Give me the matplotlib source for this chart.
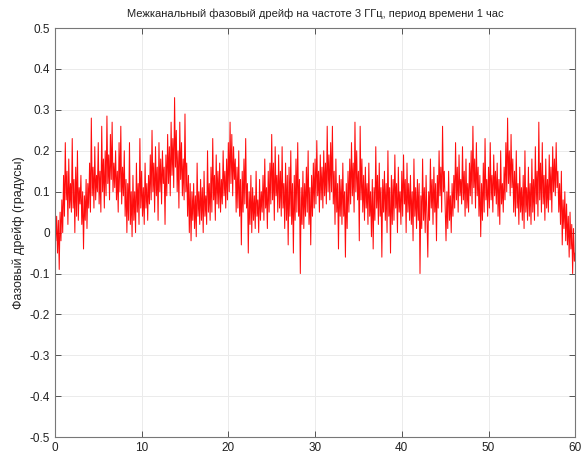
import numpy as np
import matplotlib
matplotlib.use("Agg")
import matplotlib.pyplot as plt
from matplotlib.ticker import FuncFormatter

plt.rcParams.update({
    "font.family": ["Liberation Sans", "DejaVu Sans"],
    "font.size": 8.5,
    "axes.unicode_minus": False,
})

TITLE = "Межканальный фазовый дрейф на частоте 3 ГГц, период времени 1 час"
YLABEL = "Фазовый дрейф (градусы)"

# phase drift, 10 samples per minute (0.1 min step)
drift = [
    0.06, -0.02, 0.04, -0.05, 0.03, -0.09, 0.05, -0.02, 0.08, 0.00,
    0.14, 0.04, 0.22, 0.08, 0.15, 0.02, 0.18, 0.06, 0.12, 0.05,
    0.23, 0.06, 0.13, 0.00, 0.16, 0.04, 0.20, 0.03, 0.11, 0.07,
    0.14, 0.02, 0.10, -0.04, 0.09, 0.03, 0.13, 0.01, 0.12, 0.06,
    0.17, 0.05, 0.28, 0.09, 0.16, 0.06, 0.21, 0.08, 0.14, 0.10,
    0.22, 0.07, 0.15, 0.05, 0.26, 0.10, 0.18, 0.06, 0.20, 0.09,
    0.285, 0.12, 0.19, 0.08, 0.24, 0.13, 0.27, 0.10, 0.17, 0.11,
    0.20, 0.08, 0.15, 0.05, 0.22, 0.10, 0.26, 0.07, 0.16, 0.09,
    0.20, 0.04, 0.13, 0.00, 0.12, 0.03, 0.22, 0.02, 0.10, -0.01,
    0.14, 0.03, 0.10, 0.00, 0.17, 0.05, 0.12, 0.02, 0.23, 0.06,
    0.15, 0.04, 0.11, 0.02, 0.17, 0.06, 0.12, 0.03, 0.14, 0.07,
    0.19, 0.08, 0.25, 0.10, 0.17, 0.05, 0.21, 0.09, 0.16, 0.03,
    0.22, 0.10, 0.18, 0.07, 0.20, 0.12, 0.16, 0.02, 0.19, 0.09,
    0.24, 0.12, 0.21, 0.09, 0.27, 0.14, 0.23, 0.11, 0.33, 0.16,
    0.25, 0.10, 0.20, 0.06, 0.27, 0.13, 0.22, 0.09, 0.18, 0.08,
    0.29, 0.10, 0.17, 0.04, 0.14, 0.00, 0.12, -0.02, 0.10, 0.03,
    0.12, 0.01, 0.09, -0.01, 0.17, 0.04, 0.10, 0.02, 0.13, 0.03,
    0.11, 0.00, 0.15, 0.04, 0.09, 0.02, 0.20, 0.05, 0.12, 0.03,
    0.16, 0.05, 0.23, 0.08, 0.14, 0.03, 0.19, 0.07, 0.15, 0.06,
    0.17, 0.05, 0.13, 0.07, 0.20, 0.09, 0.15, 0.06, 0.18, 0.08,
    0.22, 0.10, 0.27, 0.12, 0.24, 0.09, 0.21, 0.13, 0.18, 0.05,
    0.16, 0.06, 0.20, 0.04, 0.13, -0.03, 0.15, 0.05, 0.18, 0.07,
    0.23, 0.06, 0.12, -0.05, 0.10, 0.02, 0.14, 0.00, 0.11, 0.03,
    0.09, 0.01, 0.15, 0.04, 0.08, 0.00, 0.13, 0.03, 0.10, 0.05,
    0.14, 0.03, 0.18, 0.06, 0.11, 0.01, 0.15, 0.05, 0.17, 0.07,
    0.24, 0.08, 0.17, 0.03, 0.21, 0.09, 0.14, 0.05, 0.19, 0.06,
    0.15, 0.04, 0.21, 0.06, 0.12, 0.01, 0.17, 0.03, 0.14, -0.03,
    0.16, 0.04, 0.20, 0.02, 0.12, -0.05, 0.14, 0.03, 0.18, 0.05,
    0.22, 0.04, 0.13, -0.10, 0.11, 0.02, 0.15, 0.01, 0.12, 0.04,
    0.16, 0.05, 0.20, 0.02, 0.11, -0.03, 0.14, 0.04, 0.17, 0.06,
    0.18, 0.07, 0.225, 0.09, 0.15, 0.05, 0.19, 0.08, 0.16, 0.06,
    0.20, 0.09, 0.17, 0.07, 0.26, 0.10, 0.19, 0.08, 0.22, 0.10,
    0.26, 0.07, 0.15, 0.02, 0.18, 0.05, 0.12, -0.04, 0.14, 0.04,
    0.13, 0.02, 0.17, 0.04, 0.10, -0.06, 0.12, 0.01, 0.15, 0.05,
    0.18, 0.07, 0.22, 0.09, 0.17, 0.05, 0.27, 0.10, 0.20, 0.08,
    0.15, -0.02, 0.26, 0.08, 0.18, 0.05, 0.14, 0.03, 0.16, 0.06,
    0.12, 0.02, 0.17, 0.04, 0.10, -0.01, 0.13, -0.04, 0.11, 0.03,
    0.21, 0.06, 0.14, 0.02, 0.17, 0.04, 0.11, -0.06, 0.13, 0.05,
    0.15, 0.03, 0.12, 0.00, 0.20, 0.04, 0.11, -0.05, 0.14, 0.02,
    0.13, 0.03, 0.19, 0.06, 0.12, 0.00, 0.16, 0.05, 0.10, 0.02,
    0.15, 0.04, 0.19, 0.07, 0.13, 0.00, 0.17, 0.05, 0.12, 0.03,
    0.14, 0.02, 0.10, -0.02, 0.18, 0.04, 0.11, 0.01, 0.13, 0.03,
    0.12, -0.10, 0.09, 0.01, 0.18, 0.03, 0.11, 0.00, 0.14, 0.04,
    -0.06, 0.10, 0.03, 0.18, 0.06, 0.13, 0.02, 0.16, 0.05, 0.12,
    -0.02, 0.14, 0.06, 0.20, 0.09, 0.16, 0.05, 0.26, 0.10, 0.15,
    0.07, -0.02, 0.10, 0.01, 0.15, 0.03, 0.09, 0.00, 0.12, 0.04,
    0.14, 0.06, 0.22, 0.08, 0.16, 0.05, 0.19, 0.09, 0.13, 0.07,
    0.21, 0.08, 0.15, 0.04, 0.18, 0.06, 0.12, 0.05, 0.17, 0.09,
    0.20, 0.07, 0.26, 0.11, 0.18, 0.06, 0.22, 0.09, 0.16, 0.04,
    0.14, -0.01, 0.12, 0.03, 0.17, 0.05, 0.23, 0.08, 0.13, 0.04,
    0.16, 0.06, 0.22, 0.08, 0.14, 0.05, 0.19, 0.09, 0.15, 0.07,
    0.17, 0.04, 0.13, 0.02, 0.20, 0.07, 0.12, 0.05, 0.16, 0.08,
    0.22, 0.10, 0.28, 0.12, 0.20, 0.09, 0.24, 0.11, 0.18, 0.05,
    0.15, 0.04, 0.20, 0.06, 0.12, 0.02, 0.16, 0.05, 0.11, 0.03,
    0.14, 0.01, 0.20, 0.05, 0.11, 0.03, 0.16, 0.04, 0.12, 0.02,
    0.18, 0.05, 0.13, 0.03, 0.21, 0.07, 0.15, 0.04, 0.27, 0.08,
    0.17, 0.05, 0.22, 0.07, 0.14, 0.03, 0.18, 0.06, 0.13, 0.05,
    0.19, 0.08, 0.16, 0.05, 0.21, 0.10, 0.18, 0.09, 0.22, 0.11,
    0.15, 0.05, 0.12, 0.02, 0.15, -0.03, 0.08, 0.01, 0.10, -0.02,
    0.07, -0.03, 0.04, -0.06, 0.05, -0.04, 0.02, -0.10, 0.01, -0.07,
    -0.05,
]
minutes = np.arange(len(drift)) / 10.0

xticks = [0, 10, 20, 30, 40, 50, 60]
yticks = [-0.5, -0.4, -0.3, -0.2, -0.1, 0, 0.1, 0.2, 0.3, 0.4, 0.5]

fig = plt.figure(figsize=(5.84, 4.53), dpi=100)
ax = fig.add_axes([0.094, 0.035, 0.891, 0.903])

ax.plot(minutes, drift, color="#ff0000", lw=0.75, alpha=0.95)

ax.set_xlim(0, 60)
ax.set_ylim(-0.5, 0.5)
ax.set_xticks(xticks)
ax.set_yticks(yticks)
ax.yaxis.set_major_formatter(FuncFormatter(lambda v, p: f"{round(v, 1):g}"))
ax.grid(True, color="#ebebeb", lw=0.7)
ax.set_axisbelow(True)
ax.tick_params(direction="in", length=4, width=0.7, colors="#555555",
               labelcolor="#222222", top=True, right=True, labelsize=8.5)
for s in ax.spines.values():
    s.set_color("#777777")
    s.set_linewidth(0.8)

ax.set_title(TITLE, fontsize=8, pad=8, color="#222222")
ax.set_ylabel(YLABEL, fontsize=9, color="#222222", labelpad=3)

fig.savefig("out.png", dpi=100)
